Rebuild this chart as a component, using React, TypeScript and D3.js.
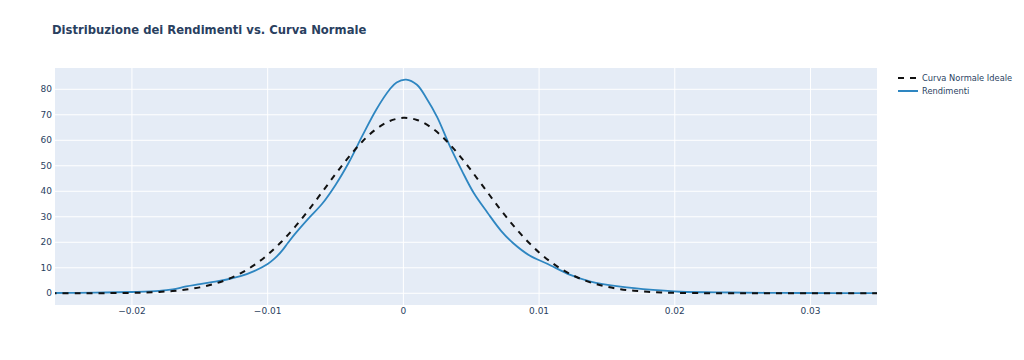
import React from "react";
import * as d3 from "d3";

const normalX = [-0.026, -0.024, -0.022, -0.02, -0.019, -0.018, -0.017, -0.016, -0.015, -0.014, -0.013, -0.012, -0.011, -0.01, -0.009, -0.008, -0.007, -0.006, -0.005, -0.004, -0.003, -0.002, -0.001, 0, 0.001, 0.002, 0.003, 0.004, 0.005, 0.006, 0.007, 0.008, 0.009, 0.01, 0.011, 0.012, 0.013, 0.014, 0.015, 0.016, 0.017, 0.018, 0.019, 0.02, 0.022, 0.024, 0.026, 0.03, 0.035];
const normalY = [0.003, 0.012, 0.048, 0.17, 0.3, 0.53, 0.89, 1.46, 2.32, 3.58, 5.37, 7.81, 11.02, 15.11, 20.09, 25.95, 32.53, 39.57, 46.74, 53.58, 59.64, 64.43, 67.58, 68.79, 67.98, 65.21, 60.72, 54.88, 48.15, 41.03, 33.89, 27.22, 21.2, 16.03, 11.76, 8.39, 5.8, 3.89, 2.54, 1.61, 0.99, 0.59, 0.34, 0.19, 0.055, 0.014, 0.003, 0.0, 0.0];

const kdeX = [-0.0257, -0.024, -0.022, -0.02, -0.018, -0.017, -0.016, -0.015, -0.014, -0.013, -0.012, -0.011, -0.01, -0.0095, -0.009, -0.0085, -0.008, -0.007, -0.006, -0.005, -0.004, -0.003, -0.002, -0.001, -0.0005, 0.0002, 0.001, 0.0017, 0.0025, 0.0034, 0.0043, 0.0052, 0.0062, 0.0072, 0.0081, 0.0093, 0.0106, 0.0123, 0.0138, 0.016, 0.0184, 0.0204, 0.024, 0.028, 0.032, 0.0349];
const kdeY = [0.1, 0.15, 0.3, 0.5, 0.9, 1.5, 2.7, 3.6, 4.5, 5.4, 6.7, 8.7, 11.5, 13.6, 16.3, 19.8, 23.2, 29.3, 35.0, 42.5, 51.5, 62.0, 72.0, 80.0, 82.7, 83.8, 81.8, 76.5, 69.0, 58.0, 48.2, 39.2, 31.6, 24.5, 19.6, 14.8, 11.6, 7.2, 4.6, 2.6, 1.3, 0.6, 0.3, 0.15, 0.05, 0.02];

const xTicks = [-0.02, -0.01, 0, 0.01, 0.02, 0.03];
const xTickLabels = ["−0.02", "−0.01", "0", "0.01", "0.02", "0.03"];
const yTicks = [0, 10, 20, 30, 40, 50, 60, 70, 80];

const title = "Distribuzione dei Rendimenti vs. Curva Normale";
const seriesNames = ["Curva Normale Ideale", "Rendimenti"];

export default function App() {
  const W = 1024, H = 360;
  const left = 55, right = 877, top = 68, bottom = 305;
  const x = d3.scaleLinear().domain([-0.02567, 0.0349]).range([left, right]);
  const y = d3.scaleLinear().domain([-4.6, 88.35]).range([bottom, top]);
  const font = "'DejaVu Sans', Verdana, sans-serif";
  const txt = "#2a3f5f";

  const line = d3.line<[number, number]>().x(d => x(d[0])).y(d => y(d[1])).curve(d3.curveCatmullRom.alpha(0.5));
  const normalPath = line(normalX.map((v, i) => [v, normalY[i]] as [number, number])) || "";
  const kdePath = line(kdeX.map((v, i) => [v, kdeY[i]] as [number, number])) || "";

  return (
    <svg width={W} height={H} style={{ position: "absolute", left: 0, top: 0, background: "#fff" }}>
      <defs>
        <clipPath id="plot">
          <rect x={left} y={top} width={right - left} height={bottom - top} />
        </clipPath>
      </defs>
      <rect x={left} y={top} width={right - left} height={bottom - top} fill="#e5ecf6" />
      {xTicks.map(t => (
        <line key={"gx" + t} x1={x(t)} x2={x(t)} y1={top} y2={bottom} stroke="#fff" strokeWidth={1} />
      ))}
      {yTicks.map(t => (
        <line key={"gy" + t} x1={left} x2={right} y1={y(t)} y2={y(t)} stroke="#fff" strokeWidth={1} />
      ))}
      <g clipPath="url(#plot)">
        <path d={kdePath} fill="none" stroke="#2e86c1" strokeWidth={1.8} />
        <path d={normalPath} fill="none" stroke="#111" strokeWidth={2} strokeDasharray="6,6" />
      </g>
      {xTicks.map((t, i) => (
        <text key={"tx" + t} x={x(t)} y={bottom + 3} dy="0.71em" textAnchor="middle" fontFamily={font} fontSize={9} fill={txt}>
          {xTickLabels[i]}
        </text>
      ))}
      {yTicks.map(t => (
        <text key={"ty" + t} x={left - 3} y={y(t)} dy="0.35em" textAnchor="end" fontFamily={font} fontSize={9} fill={txt}>
          {t}
        </text>
      ))}
      <text x={52} y={34} fontFamily={font} fontSize={11.6} fontWeight="bold" fill={txt}>{title}</text>
      <g fontFamily={font} fontSize={8.3} fill={txt}>
        <line x1={898} x2={918} y1={78} y2={78} stroke="#111" strokeWidth={2} strokeDasharray="6,6" />
        <text x={922} y={78} dy="0.35em">{seriesNames[0]}</text>
        <line x1={898} x2={918} y1={91} y2={91} stroke="#2e86c1" strokeWidth={2} />
        <text x={922} y={91} dy="0.35em">{seriesNames[1]}</text>
      </g>
    </svg>
  );
}
